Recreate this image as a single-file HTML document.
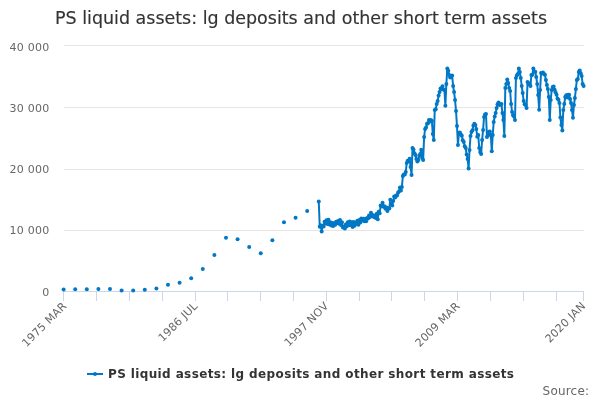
<!DOCTYPE html>
<html><head><meta charset="utf-8"><style>
html,body{margin:0;padding:0;background:#fff;width:600px;height:400px;overflow:hidden}
svg{display:block;font-family:"DejaVu Sans","Liberation Sans",sans-serif}
.ax{font-size:11px;fill:#666666}
.title{font-size:18px;fill:#333333;stroke:#333333;stroke-width:0.15px}
.leg{font-size:12px;font-weight:bold;fill:#333333}
.src{font-size:12px;fill:#666666}
</style></head><body>
<svg width="600" height="400" viewBox="0 0 600 400">
<rect width="600" height="400" fill="#ffffff"/>
<text x="55" y="24" textLength="492" lengthAdjust="spacingAndGlyphs" class="title">PS liquid assets: lg deposits and other short term assets</text>
<path d="M 64 45.5 L 584 45.5" stroke="#e6e6e6" stroke-width="1"/>
<path d="M 64 107.5 L 584 107.5" stroke="#e6e6e6" stroke-width="1"/>
<path d="M 64 169.5 L 584 169.5" stroke="#e6e6e6" stroke-width="1"/>
<path d="M 64 230.5 L 584 230.5" stroke="#e6e6e6" stroke-width="1"/>
<path d="M 63.5 291.5 L 583.5 291.5" stroke="#ccd6eb" stroke-width="1"/>
<path d="M 63.5 291 L 63.5 301" stroke="#ccd6eb" stroke-width="1"/>
<path d="M 96.5 291 L 96.5 301" stroke="#ccd6eb" stroke-width="1"/>
<path d="M 129.5 291 L 129.5 301" stroke="#ccd6eb" stroke-width="1"/>
<path d="M 162.5 291 L 162.5 301" stroke="#ccd6eb" stroke-width="1"/>
<path d="M 195.5 291 L 195.5 301" stroke="#ccd6eb" stroke-width="1"/>
<path d="M 227.5 291 L 227.5 301" stroke="#ccd6eb" stroke-width="1"/>
<path d="M 260.5 291 L 260.5 301" stroke="#ccd6eb" stroke-width="1"/>
<path d="M 293.5 291 L 293.5 301" stroke="#ccd6eb" stroke-width="1"/>
<path d="M 326.5 291 L 326.5 301" stroke="#ccd6eb" stroke-width="1"/>
<path d="M 359.5 291 L 359.5 301" stroke="#ccd6eb" stroke-width="1"/>
<path d="M 391.5 291 L 391.5 301" stroke="#ccd6eb" stroke-width="1"/>
<path d="M 424.5 291 L 424.5 301" stroke="#ccd6eb" stroke-width="1"/>
<path d="M 457.5 291 L 457.5 301" stroke="#ccd6eb" stroke-width="1"/>
<path d="M 490.5 291 L 490.5 301" stroke="#ccd6eb" stroke-width="1"/>
<path d="M 523.5 291 L 523.5 301" stroke="#ccd6eb" stroke-width="1"/>
<path d="M 556.5 291 L 556.5 301" stroke="#ccd6eb" stroke-width="1"/>
<path d="M 583.5 291 L 583.5 301" stroke="#ccd6eb" stroke-width="1"/>
<text x="49.2" y="51.2" text-anchor="end" class="ax" textLength="39.8" lengthAdjust="spacing">40 000</text>
<text x="49.2" y="112.0" text-anchor="end" class="ax" textLength="39.8" lengthAdjust="spacing">30 000</text>
<text x="49.2" y="172.9" text-anchor="end" class="ax" textLength="39.8" lengthAdjust="spacing">20 000</text>
<text x="49.2" y="233.8" text-anchor="end" class="ax" textLength="39.8" lengthAdjust="spacing">10 000</text>
<text x="49.2" y="295.9" text-anchor="end" class="ax">0</text>
<text x="67.1" y="306.8" text-anchor="end" class="ax" textLength="57.4" lengthAdjust="spacing" transform="rotate(-45 67.1 306.8)">1975 MAR</text>
<text x="198.2" y="306.8" text-anchor="end" class="ax" textLength="50.1" lengthAdjust="spacing" transform="rotate(-45 198.2 306.8)">1986 JUL</text>
<text x="329.0" y="306.8" text-anchor="end" class="ax" textLength="57.0" lengthAdjust="spacing" transform="rotate(-45 329.0 306.8)">1997 NOV</text>
<text x="460.4" y="306.8" text-anchor="end" class="ax" textLength="57.4" lengthAdjust="spacing" transform="rotate(-45 460.4 306.8)">2009 MAR</text>
<text x="586.1" y="306.8" text-anchor="end" class="ax" textLength="51.5" lengthAdjust="spacing" transform="rotate(-45 586.1 306.8)">2020 JAN</text>
<path d="M 318.77 201.50 L 319.73 226.80 L 320.70 225.23 L 321.67 231.46 L 322.63 225.66 L 323.60 226.50 L 324.57 221.73 L 325.53 223.60 L 326.50 220.13 L 327.47 223.91 L 328.43 219.65 L 329.40 224.49 L 330.37 222.22 L 331.33 225.54 L 332.30 223.05 L 333.27 226.00 L 334.23 223.18 L 335.20 224.83 L 336.17 221.77 L 337.13 223.05 L 338.10 221.04 L 339.06 223.76 L 340.03 220.07 L 341.00 225.00 L 341.96 222.35 L 342.93 227.49 L 343.90 226.66 L 344.86 228.42 L 345.83 224.38 L 346.80 226.26 L 347.76 222.28 L 348.73 225.23 L 349.70 221.61 L 350.66 224.97 L 351.63 222.23 L 352.60 226.89 L 353.56 222.11 L 354.53 225.72 L 355.50 222.38 L 356.46 223.66 L 357.43 220.66 L 358.40 224.84 L 359.36 219.95 L 360.33 222.51 L 361.30 218.57 L 362.26 219.83 L 363.23 218.78 L 364.19 221.19 L 365.16 219.04 L 366.13 221.18 L 367.09 218.01 L 368.06 218.50 L 369.03 215.54 L 369.99 216.94 L 370.96 212.68 L 371.93 215.93 L 372.89 215.04 L 373.86 216.92 L 374.83 215.86 L 375.79 217.90 L 376.76 213.84 L 377.73 219.23 L 378.69 211.69 L 379.66 213.33 L 380.63 205.49 L 381.59 206.26 L 382.56 202.63 L 383.53 206.79 L 384.49 206.31 L 385.46 208.67 L 386.43 207.47 L 387.39 211.05 L 388.36 208.18 L 389.32 208.48 L 390.29 199.87 L 391.26 204.58 L 392.22 205.61 L 393.19 201.00 L 394.16 196.62 L 395.12 197.40 L 396.09 195.47 L 397.06 195.40 L 398.02 192.65 L 398.99 191.40 L 399.96 187.42 L 400.92 190.61 L 401.89 187.00 L 402.86 176.00 L 403.82 174.44 L 404.79 174.40 L 405.76 172.00 L 406.72 163.00 L 407.69 160.77 L 408.66 161.23 L 409.62 158.80 L 410.59 167.00 L 411.56 175.00 L 412.52 148.00 L 413.49 149.60 L 414.46 153.22 L 415.42 155.10 L 416.39 159.10 L 417.35 161.38 L 418.32 159.90 L 419.29 155.82 L 420.25 153.90 L 421.22 149.66 L 422.19 158.00 L 423.15 160.00 L 424.12 137.00 L 425.09 129.00 L 426.05 127.40 L 427.02 123.67 L 427.99 123.15 L 428.95 119.94 L 429.92 121.57 L 430.89 119.93 L 431.85 121.00 L 432.82 134.00 L 433.79 140.00 L 434.75 110.00 L 435.72 109.18 L 436.69 104.10 L 437.65 101.00 L 438.62 95.60 L 439.59 92.12 L 440.55 88.57 L 441.52 88.90 L 442.48 86.34 L 443.45 89.40 L 444.42 90.00 L 445.38 105.67 L 446.35 84.00 L 447.32 68.50 L 448.28 70.85 L 449.25 75.07 L 450.22 77.39 L 451.18 76.48 L 452.15 75.50 L 453.12 86.00 L 454.08 92.00 L 455.05 100.00 L 456.02 111.00 L 456.98 126.00 L 457.95 144.91 L 458.92 133.00 L 459.88 132.60 L 460.85 134.40 L 461.82 135.82 L 462.78 140.17 L 463.75 142.10 L 464.72 146.18 L 465.68 148.00 L 466.65 154.40 L 467.61 159.00 L 468.58 168.50 L 469.55 150.00 L 470.51 136.00 L 471.48 132.10 L 472.45 130.13 L 473.41 125.60 L 474.38 123.66 L 475.35 125.10 L 476.31 129.00 L 477.28 136.82 L 478.25 135.00 L 479.21 148.00 L 480.18 151.90 L 481.15 154.00 L 482.11 140.00 L 483.08 130.00 L 484.05 117.00 L 485.01 114.60 L 485.98 114.00 L 486.95 137.00 L 487.91 135.40 L 488.88 131.69 L 489.85 131.44 L 490.81 135.00 L 491.78 151.20 L 492.74 135.00 L 493.71 122.00 L 494.68 116.60 L 495.64 113.00 L 496.61 108.00 L 497.58 104.26 L 498.54 102.38 L 499.51 104.90 L 500.48 104.38 L 501.44 104.00 L 502.41 113.00 L 503.38 120.00 L 504.34 136.00 L 505.31 88.00 L 506.28 84.00 L 507.24 79.61 L 508.21 83.00 L 509.18 88.00 L 510.14 91.00 L 511.11 104.00 L 512.08 112.00 L 513.04 115.30 L 514.01 116.60 L 514.98 120.00 L 515.94 78.00 L 516.91 75.35 L 517.88 73.91 L 518.84 68.53 L 519.81 72.00 L 520.77 78.00 L 521.74 86.00 L 522.71 93.00 L 523.67 101.00 L 524.64 104.34 L 525.61 105.10 L 526.57 108.00 L 527.54 82.00 L 528.51 83.90 L 529.47 83.48 L 530.44 86.00 L 531.41 75.00 L 532.37 74.67 L 533.34 68.57 L 534.31 71.40 L 535.27 71.79 L 536.24 77.00 L 537.21 84.00 L 538.17 95.00 L 539.14 109.74 L 540.11 90.00 L 541.07 73.00 L 542.04 73.20 L 543.01 72.39 L 543.97 74.03 L 544.94 74.87 L 545.90 80.00 L 546.87 85.00 L 547.84 89.00 L 548.80 97.00 L 549.77 119.94 L 550.74 100.00 L 551.70 90.00 L 552.67 87.10 L 553.64 86.45 L 554.60 89.83 L 555.57 92.26 L 556.54 94.86 L 557.50 98.40 L 558.47 99.70 L 559.44 103.00 L 560.40 117.50 L 561.37 124.90 L 562.34 130.50 L 563.30 110.00 L 564.27 104.00 L 565.24 97.00 L 566.20 95.30 L 567.17 97.60 L 568.14 94.85 L 569.10 94.84 L 570.07 99.00 L 571.03 103.00 L 572.00 110.00 L 572.97 117.76 L 573.93 105.00 L 574.90 98.00 L 575.87 89.00 L 576.83 80.00 L 577.80 79.00 L 578.77 72.00 L 579.73 70.39 L 580.70 73.26 L 581.67 76.00 L 582.63 84.00 L 583.60 86.00" fill="none" stroke="#0078c6" stroke-width="2" stroke-linejoin="round" stroke-linecap="round"/>
<circle cx="63.60" cy="289.60" r="2" fill="#0078c6"/>
<circle cx="75.20" cy="289.20" r="2" fill="#0078c6"/>
<circle cx="86.80" cy="289.20" r="2" fill="#0078c6"/>
<circle cx="98.40" cy="289.00" r="2" fill="#0078c6"/>
<circle cx="109.99" cy="289.00" r="2" fill="#0078c6"/>
<circle cx="121.59" cy="290.60" r="2" fill="#0078c6"/>
<circle cx="133.19" cy="290.40" r="2" fill="#0078c6"/>
<circle cx="144.79" cy="289.80" r="2" fill="#0078c6"/>
<circle cx="156.39" cy="288.60" r="2" fill="#0078c6"/>
<circle cx="167.99" cy="284.70" r="2" fill="#0078c6"/>
<circle cx="179.59" cy="282.70" r="2" fill="#0078c6"/>
<circle cx="191.18" cy="278.30" r="2" fill="#0078c6"/>
<circle cx="202.78" cy="269.00" r="2" fill="#0078c6"/>
<circle cx="214.38" cy="255.00" r="2" fill="#0078c6"/>
<circle cx="225.98" cy="237.70" r="2" fill="#0078c6"/>
<circle cx="237.58" cy="239.20" r="2" fill="#0078c6"/>
<circle cx="249.18" cy="247.00" r="2" fill="#0078c6"/>
<circle cx="260.77" cy="253.30" r="2" fill="#0078c6"/>
<circle cx="272.37" cy="240.30" r="2" fill="#0078c6"/>
<circle cx="283.97" cy="222.30" r="2" fill="#0078c6"/>
<circle cx="295.57" cy="217.70" r="2" fill="#0078c6"/>
<circle cx="307.17" cy="211.00" r="2" fill="#0078c6"/>
<circle cx="318.77" cy="201.50" r="2" fill="#0078c6"/>
<circle cx="319.73" cy="226.80" r="2" fill="#0078c6"/>
<circle cx="320.70" cy="225.23" r="2" fill="#0078c6"/>
<circle cx="321.67" cy="231.46" r="2" fill="#0078c6"/>
<circle cx="322.63" cy="225.66" r="2" fill="#0078c6"/>
<circle cx="323.60" cy="226.50" r="2" fill="#0078c6"/>
<circle cx="324.57" cy="221.73" r="2" fill="#0078c6"/>
<circle cx="325.53" cy="223.60" r="2" fill="#0078c6"/>
<circle cx="326.50" cy="220.13" r="2" fill="#0078c6"/>
<circle cx="327.47" cy="223.91" r="2" fill="#0078c6"/>
<circle cx="328.43" cy="219.65" r="2" fill="#0078c6"/>
<circle cx="329.40" cy="224.49" r="2" fill="#0078c6"/>
<circle cx="330.37" cy="222.22" r="2" fill="#0078c6"/>
<circle cx="331.33" cy="225.54" r="2" fill="#0078c6"/>
<circle cx="332.30" cy="223.05" r="2" fill="#0078c6"/>
<circle cx="333.27" cy="226.00" r="2" fill="#0078c6"/>
<circle cx="334.23" cy="223.18" r="2" fill="#0078c6"/>
<circle cx="335.20" cy="224.83" r="2" fill="#0078c6"/>
<circle cx="336.17" cy="221.77" r="2" fill="#0078c6"/>
<circle cx="337.13" cy="223.05" r="2" fill="#0078c6"/>
<circle cx="338.10" cy="221.04" r="2" fill="#0078c6"/>
<circle cx="339.06" cy="223.76" r="2" fill="#0078c6"/>
<circle cx="340.03" cy="220.07" r="2" fill="#0078c6"/>
<circle cx="341.00" cy="225.00" r="2" fill="#0078c6"/>
<circle cx="341.96" cy="222.35" r="2" fill="#0078c6"/>
<circle cx="342.93" cy="227.49" r="2" fill="#0078c6"/>
<circle cx="343.90" cy="226.66" r="2" fill="#0078c6"/>
<circle cx="344.86" cy="228.42" r="2" fill="#0078c6"/>
<circle cx="345.83" cy="224.38" r="2" fill="#0078c6"/>
<circle cx="346.80" cy="226.26" r="2" fill="#0078c6"/>
<circle cx="347.76" cy="222.28" r="2" fill="#0078c6"/>
<circle cx="348.73" cy="225.23" r="2" fill="#0078c6"/>
<circle cx="349.70" cy="221.61" r="2" fill="#0078c6"/>
<circle cx="350.66" cy="224.97" r="2" fill="#0078c6"/>
<circle cx="351.63" cy="222.23" r="2" fill="#0078c6"/>
<circle cx="352.60" cy="226.89" r="2" fill="#0078c6"/>
<circle cx="353.56" cy="222.11" r="2" fill="#0078c6"/>
<circle cx="354.53" cy="225.72" r="2" fill="#0078c6"/>
<circle cx="355.50" cy="222.38" r="2" fill="#0078c6"/>
<circle cx="356.46" cy="223.66" r="2" fill="#0078c6"/>
<circle cx="357.43" cy="220.66" r="2" fill="#0078c6"/>
<circle cx="358.40" cy="224.84" r="2" fill="#0078c6"/>
<circle cx="359.36" cy="219.95" r="2" fill="#0078c6"/>
<circle cx="360.33" cy="222.51" r="2" fill="#0078c6"/>
<circle cx="361.30" cy="218.57" r="2" fill="#0078c6"/>
<circle cx="362.26" cy="219.83" r="2" fill="#0078c6"/>
<circle cx="363.23" cy="218.78" r="2" fill="#0078c6"/>
<circle cx="364.19" cy="221.19" r="2" fill="#0078c6"/>
<circle cx="365.16" cy="219.04" r="2" fill="#0078c6"/>
<circle cx="366.13" cy="221.18" r="2" fill="#0078c6"/>
<circle cx="367.09" cy="218.01" r="2" fill="#0078c6"/>
<circle cx="368.06" cy="218.50" r="2" fill="#0078c6"/>
<circle cx="369.03" cy="215.54" r="2" fill="#0078c6"/>
<circle cx="369.99" cy="216.94" r="2" fill="#0078c6"/>
<circle cx="370.96" cy="212.68" r="2" fill="#0078c6"/>
<circle cx="371.93" cy="215.93" r="2" fill="#0078c6"/>
<circle cx="372.89" cy="215.04" r="2" fill="#0078c6"/>
<circle cx="373.86" cy="216.92" r="2" fill="#0078c6"/>
<circle cx="374.83" cy="215.86" r="2" fill="#0078c6"/>
<circle cx="375.79" cy="217.90" r="2" fill="#0078c6"/>
<circle cx="376.76" cy="213.84" r="2" fill="#0078c6"/>
<circle cx="377.73" cy="219.23" r="2" fill="#0078c6"/>
<circle cx="378.69" cy="211.69" r="2" fill="#0078c6"/>
<circle cx="379.66" cy="213.33" r="2" fill="#0078c6"/>
<circle cx="380.63" cy="205.49" r="2" fill="#0078c6"/>
<circle cx="381.59" cy="206.26" r="2" fill="#0078c6"/>
<circle cx="382.56" cy="202.63" r="2" fill="#0078c6"/>
<circle cx="383.53" cy="206.79" r="2" fill="#0078c6"/>
<circle cx="384.49" cy="206.31" r="2" fill="#0078c6"/>
<circle cx="385.46" cy="208.67" r="2" fill="#0078c6"/>
<circle cx="386.43" cy="207.47" r="2" fill="#0078c6"/>
<circle cx="387.39" cy="211.05" r="2" fill="#0078c6"/>
<circle cx="388.36" cy="208.18" r="2" fill="#0078c6"/>
<circle cx="389.32" cy="208.48" r="2" fill="#0078c6"/>
<circle cx="390.29" cy="199.87" r="2" fill="#0078c6"/>
<circle cx="391.26" cy="204.58" r="2" fill="#0078c6"/>
<circle cx="392.22" cy="205.61" r="2" fill="#0078c6"/>
<circle cx="393.19" cy="201.00" r="2" fill="#0078c6"/>
<circle cx="394.16" cy="196.62" r="2" fill="#0078c6"/>
<circle cx="395.12" cy="197.40" r="2" fill="#0078c6"/>
<circle cx="396.09" cy="195.47" r="2" fill="#0078c6"/>
<circle cx="397.06" cy="195.40" r="2" fill="#0078c6"/>
<circle cx="398.02" cy="192.65" r="2" fill="#0078c6"/>
<circle cx="398.99" cy="191.40" r="2" fill="#0078c6"/>
<circle cx="399.96" cy="187.42" r="2" fill="#0078c6"/>
<circle cx="400.92" cy="190.61" r="2" fill="#0078c6"/>
<circle cx="401.89" cy="187.00" r="2" fill="#0078c6"/>
<circle cx="402.86" cy="176.00" r="2" fill="#0078c6"/>
<circle cx="403.82" cy="174.44" r="2" fill="#0078c6"/>
<circle cx="404.79" cy="174.40" r="2" fill="#0078c6"/>
<circle cx="405.76" cy="172.00" r="2" fill="#0078c6"/>
<circle cx="406.72" cy="163.00" r="2" fill="#0078c6"/>
<circle cx="407.69" cy="160.77" r="2" fill="#0078c6"/>
<circle cx="408.66" cy="161.23" r="2" fill="#0078c6"/>
<circle cx="409.62" cy="158.80" r="2" fill="#0078c6"/>
<circle cx="410.59" cy="167.00" r="2" fill="#0078c6"/>
<circle cx="411.56" cy="175.00" r="2" fill="#0078c6"/>
<circle cx="412.52" cy="148.00" r="2" fill="#0078c6"/>
<circle cx="413.49" cy="149.60" r="2" fill="#0078c6"/>
<circle cx="414.46" cy="153.22" r="2" fill="#0078c6"/>
<circle cx="415.42" cy="155.10" r="2" fill="#0078c6"/>
<circle cx="416.39" cy="159.10" r="2" fill="#0078c6"/>
<circle cx="417.35" cy="161.38" r="2" fill="#0078c6"/>
<circle cx="418.32" cy="159.90" r="2" fill="#0078c6"/>
<circle cx="419.29" cy="155.82" r="2" fill="#0078c6"/>
<circle cx="420.25" cy="153.90" r="2" fill="#0078c6"/>
<circle cx="421.22" cy="149.66" r="2" fill="#0078c6"/>
<circle cx="422.19" cy="158.00" r="2" fill="#0078c6"/>
<circle cx="423.15" cy="160.00" r="2" fill="#0078c6"/>
<circle cx="424.12" cy="137.00" r="2" fill="#0078c6"/>
<circle cx="425.09" cy="129.00" r="2" fill="#0078c6"/>
<circle cx="426.05" cy="127.40" r="2" fill="#0078c6"/>
<circle cx="427.02" cy="123.67" r="2" fill="#0078c6"/>
<circle cx="427.99" cy="123.15" r="2" fill="#0078c6"/>
<circle cx="428.95" cy="119.94" r="2" fill="#0078c6"/>
<circle cx="429.92" cy="121.57" r="2" fill="#0078c6"/>
<circle cx="430.89" cy="119.93" r="2" fill="#0078c6"/>
<circle cx="431.85" cy="121.00" r="2" fill="#0078c6"/>
<circle cx="432.82" cy="134.00" r="2" fill="#0078c6"/>
<circle cx="433.79" cy="140.00" r="2" fill="#0078c6"/>
<circle cx="434.75" cy="110.00" r="2" fill="#0078c6"/>
<circle cx="435.72" cy="109.18" r="2" fill="#0078c6"/>
<circle cx="436.69" cy="104.10" r="2" fill="#0078c6"/>
<circle cx="437.65" cy="101.00" r="2" fill="#0078c6"/>
<circle cx="438.62" cy="95.60" r="2" fill="#0078c6"/>
<circle cx="439.59" cy="92.12" r="2" fill="#0078c6"/>
<circle cx="440.55" cy="88.57" r="2" fill="#0078c6"/>
<circle cx="441.52" cy="88.90" r="2" fill="#0078c6"/>
<circle cx="442.48" cy="86.34" r="2" fill="#0078c6"/>
<circle cx="443.45" cy="89.40" r="2" fill="#0078c6"/>
<circle cx="444.42" cy="90.00" r="2" fill="#0078c6"/>
<circle cx="445.38" cy="105.67" r="2" fill="#0078c6"/>
<circle cx="446.35" cy="84.00" r="2" fill="#0078c6"/>
<circle cx="447.32" cy="68.50" r="2" fill="#0078c6"/>
<circle cx="448.28" cy="70.85" r="2" fill="#0078c6"/>
<circle cx="449.25" cy="75.07" r="2" fill="#0078c6"/>
<circle cx="450.22" cy="77.39" r="2" fill="#0078c6"/>
<circle cx="451.18" cy="76.48" r="2" fill="#0078c6"/>
<circle cx="452.15" cy="75.50" r="2" fill="#0078c6"/>
<circle cx="453.12" cy="86.00" r="2" fill="#0078c6"/>
<circle cx="454.08" cy="92.00" r="2" fill="#0078c6"/>
<circle cx="455.05" cy="100.00" r="2" fill="#0078c6"/>
<circle cx="456.02" cy="111.00" r="2" fill="#0078c6"/>
<circle cx="456.98" cy="126.00" r="2" fill="#0078c6"/>
<circle cx="457.95" cy="144.91" r="2" fill="#0078c6"/>
<circle cx="458.92" cy="133.00" r="2" fill="#0078c6"/>
<circle cx="459.88" cy="132.60" r="2" fill="#0078c6"/>
<circle cx="460.85" cy="134.40" r="2" fill="#0078c6"/>
<circle cx="461.82" cy="135.82" r="2" fill="#0078c6"/>
<circle cx="462.78" cy="140.17" r="2" fill="#0078c6"/>
<circle cx="463.75" cy="142.10" r="2" fill="#0078c6"/>
<circle cx="464.72" cy="146.18" r="2" fill="#0078c6"/>
<circle cx="465.68" cy="148.00" r="2" fill="#0078c6"/>
<circle cx="466.65" cy="154.40" r="2" fill="#0078c6"/>
<circle cx="467.61" cy="159.00" r="2" fill="#0078c6"/>
<circle cx="468.58" cy="168.50" r="2" fill="#0078c6"/>
<circle cx="469.55" cy="150.00" r="2" fill="#0078c6"/>
<circle cx="470.51" cy="136.00" r="2" fill="#0078c6"/>
<circle cx="471.48" cy="132.10" r="2" fill="#0078c6"/>
<circle cx="472.45" cy="130.13" r="2" fill="#0078c6"/>
<circle cx="473.41" cy="125.60" r="2" fill="#0078c6"/>
<circle cx="474.38" cy="123.66" r="2" fill="#0078c6"/>
<circle cx="475.35" cy="125.10" r="2" fill="#0078c6"/>
<circle cx="476.31" cy="129.00" r="2" fill="#0078c6"/>
<circle cx="477.28" cy="136.82" r="2" fill="#0078c6"/>
<circle cx="478.25" cy="135.00" r="2" fill="#0078c6"/>
<circle cx="479.21" cy="148.00" r="2" fill="#0078c6"/>
<circle cx="480.18" cy="151.90" r="2" fill="#0078c6"/>
<circle cx="481.15" cy="154.00" r="2" fill="#0078c6"/>
<circle cx="482.11" cy="140.00" r="2" fill="#0078c6"/>
<circle cx="483.08" cy="130.00" r="2" fill="#0078c6"/>
<circle cx="484.05" cy="117.00" r="2" fill="#0078c6"/>
<circle cx="485.01" cy="114.60" r="2" fill="#0078c6"/>
<circle cx="485.98" cy="114.00" r="2" fill="#0078c6"/>
<circle cx="486.95" cy="137.00" r="2" fill="#0078c6"/>
<circle cx="487.91" cy="135.40" r="2" fill="#0078c6"/>
<circle cx="488.88" cy="131.69" r="2" fill="#0078c6"/>
<circle cx="489.85" cy="131.44" r="2" fill="#0078c6"/>
<circle cx="490.81" cy="135.00" r="2" fill="#0078c6"/>
<circle cx="491.78" cy="151.20" r="2" fill="#0078c6"/>
<circle cx="492.74" cy="135.00" r="2" fill="#0078c6"/>
<circle cx="493.71" cy="122.00" r="2" fill="#0078c6"/>
<circle cx="494.68" cy="116.60" r="2" fill="#0078c6"/>
<circle cx="495.64" cy="113.00" r="2" fill="#0078c6"/>
<circle cx="496.61" cy="108.00" r="2" fill="#0078c6"/>
<circle cx="497.58" cy="104.26" r="2" fill="#0078c6"/>
<circle cx="498.54" cy="102.38" r="2" fill="#0078c6"/>
<circle cx="499.51" cy="104.90" r="2" fill="#0078c6"/>
<circle cx="500.48" cy="104.38" r="2" fill="#0078c6"/>
<circle cx="501.44" cy="104.00" r="2" fill="#0078c6"/>
<circle cx="502.41" cy="113.00" r="2" fill="#0078c6"/>
<circle cx="503.38" cy="120.00" r="2" fill="#0078c6"/>
<circle cx="504.34" cy="136.00" r="2" fill="#0078c6"/>
<circle cx="505.31" cy="88.00" r="2" fill="#0078c6"/>
<circle cx="506.28" cy="84.00" r="2" fill="#0078c6"/>
<circle cx="507.24" cy="79.61" r="2" fill="#0078c6"/>
<circle cx="508.21" cy="83.00" r="2" fill="#0078c6"/>
<circle cx="509.18" cy="88.00" r="2" fill="#0078c6"/>
<circle cx="510.14" cy="91.00" r="2" fill="#0078c6"/>
<circle cx="511.11" cy="104.00" r="2" fill="#0078c6"/>
<circle cx="512.08" cy="112.00" r="2" fill="#0078c6"/>
<circle cx="513.04" cy="115.30" r="2" fill="#0078c6"/>
<circle cx="514.01" cy="116.60" r="2" fill="#0078c6"/>
<circle cx="514.98" cy="120.00" r="2" fill="#0078c6"/>
<circle cx="515.94" cy="78.00" r="2" fill="#0078c6"/>
<circle cx="516.91" cy="75.35" r="2" fill="#0078c6"/>
<circle cx="517.88" cy="73.91" r="2" fill="#0078c6"/>
<circle cx="518.84" cy="68.53" r="2" fill="#0078c6"/>
<circle cx="519.81" cy="72.00" r="2" fill="#0078c6"/>
<circle cx="520.77" cy="78.00" r="2" fill="#0078c6"/>
<circle cx="521.74" cy="86.00" r="2" fill="#0078c6"/>
<circle cx="522.71" cy="93.00" r="2" fill="#0078c6"/>
<circle cx="523.67" cy="101.00" r="2" fill="#0078c6"/>
<circle cx="524.64" cy="104.34" r="2" fill="#0078c6"/>
<circle cx="525.61" cy="105.10" r="2" fill="#0078c6"/>
<circle cx="526.57" cy="108.00" r="2" fill="#0078c6"/>
<circle cx="527.54" cy="82.00" r="2" fill="#0078c6"/>
<circle cx="528.51" cy="83.90" r="2" fill="#0078c6"/>
<circle cx="529.47" cy="83.48" r="2" fill="#0078c6"/>
<circle cx="530.44" cy="86.00" r="2" fill="#0078c6"/>
<circle cx="531.41" cy="75.00" r="2" fill="#0078c6"/>
<circle cx="532.37" cy="74.67" r="2" fill="#0078c6"/>
<circle cx="533.34" cy="68.57" r="2" fill="#0078c6"/>
<circle cx="534.31" cy="71.40" r="2" fill="#0078c6"/>
<circle cx="535.27" cy="71.79" r="2" fill="#0078c6"/>
<circle cx="536.24" cy="77.00" r="2" fill="#0078c6"/>
<circle cx="537.21" cy="84.00" r="2" fill="#0078c6"/>
<circle cx="538.17" cy="95.00" r="2" fill="#0078c6"/>
<circle cx="539.14" cy="109.74" r="2" fill="#0078c6"/>
<circle cx="540.11" cy="90.00" r="2" fill="#0078c6"/>
<circle cx="541.07" cy="73.00" r="2" fill="#0078c6"/>
<circle cx="542.04" cy="73.20" r="2" fill="#0078c6"/>
<circle cx="543.01" cy="72.39" r="2" fill="#0078c6"/>
<circle cx="543.97" cy="74.03" r="2" fill="#0078c6"/>
<circle cx="544.94" cy="74.87" r="2" fill="#0078c6"/>
<circle cx="545.90" cy="80.00" r="2" fill="#0078c6"/>
<circle cx="546.87" cy="85.00" r="2" fill="#0078c6"/>
<circle cx="547.84" cy="89.00" r="2" fill="#0078c6"/>
<circle cx="548.80" cy="97.00" r="2" fill="#0078c6"/>
<circle cx="549.77" cy="119.94" r="2" fill="#0078c6"/>
<circle cx="550.74" cy="100.00" r="2" fill="#0078c6"/>
<circle cx="551.70" cy="90.00" r="2" fill="#0078c6"/>
<circle cx="552.67" cy="87.10" r="2" fill="#0078c6"/>
<circle cx="553.64" cy="86.45" r="2" fill="#0078c6"/>
<circle cx="554.60" cy="89.83" r="2" fill="#0078c6"/>
<circle cx="555.57" cy="92.26" r="2" fill="#0078c6"/>
<circle cx="556.54" cy="94.86" r="2" fill="#0078c6"/>
<circle cx="557.50" cy="98.40" r="2" fill="#0078c6"/>
<circle cx="558.47" cy="99.70" r="2" fill="#0078c6"/>
<circle cx="559.44" cy="103.00" r="2" fill="#0078c6"/>
<circle cx="560.40" cy="117.50" r="2" fill="#0078c6"/>
<circle cx="561.37" cy="124.90" r="2" fill="#0078c6"/>
<circle cx="562.34" cy="130.50" r="2" fill="#0078c6"/>
<circle cx="563.30" cy="110.00" r="2" fill="#0078c6"/>
<circle cx="564.27" cy="104.00" r="2" fill="#0078c6"/>
<circle cx="565.24" cy="97.00" r="2" fill="#0078c6"/>
<circle cx="566.20" cy="95.30" r="2" fill="#0078c6"/>
<circle cx="567.17" cy="97.60" r="2" fill="#0078c6"/>
<circle cx="568.14" cy="94.85" r="2" fill="#0078c6"/>
<circle cx="569.10" cy="94.84" r="2" fill="#0078c6"/>
<circle cx="570.07" cy="99.00" r="2" fill="#0078c6"/>
<circle cx="571.03" cy="103.00" r="2" fill="#0078c6"/>
<circle cx="572.00" cy="110.00" r="2" fill="#0078c6"/>
<circle cx="572.97" cy="117.76" r="2" fill="#0078c6"/>
<circle cx="573.93" cy="105.00" r="2" fill="#0078c6"/>
<circle cx="574.90" cy="98.00" r="2" fill="#0078c6"/>
<circle cx="575.87" cy="89.00" r="2" fill="#0078c6"/>
<circle cx="576.83" cy="80.00" r="2" fill="#0078c6"/>
<circle cx="577.80" cy="79.00" r="2" fill="#0078c6"/>
<circle cx="578.77" cy="72.00" r="2" fill="#0078c6"/>
<circle cx="579.73" cy="70.39" r="2" fill="#0078c6"/>
<circle cx="580.70" cy="73.26" r="2" fill="#0078c6"/>
<circle cx="581.67" cy="76.00" r="2" fill="#0078c6"/>
<circle cx="582.63" cy="84.00" r="2" fill="#0078c6"/>
<circle cx="583.60" cy="86.00" r="2" fill="#0078c6"/>
<path d="M 87 374 L 103 374" stroke="#0078c6" stroke-width="2"/>
<circle cx="95" cy="374" r="2" fill="#0078c6"/>
<text x="108" y="378" textLength="406" lengthAdjust="spacing" class="leg">PS liquid assets: lg deposits and other short term assets</text>
<text x="589" y="395" text-anchor="end" textLength="46.4" lengthAdjust="spacing" class="src">Source:</text>
</svg>
</body></html>
